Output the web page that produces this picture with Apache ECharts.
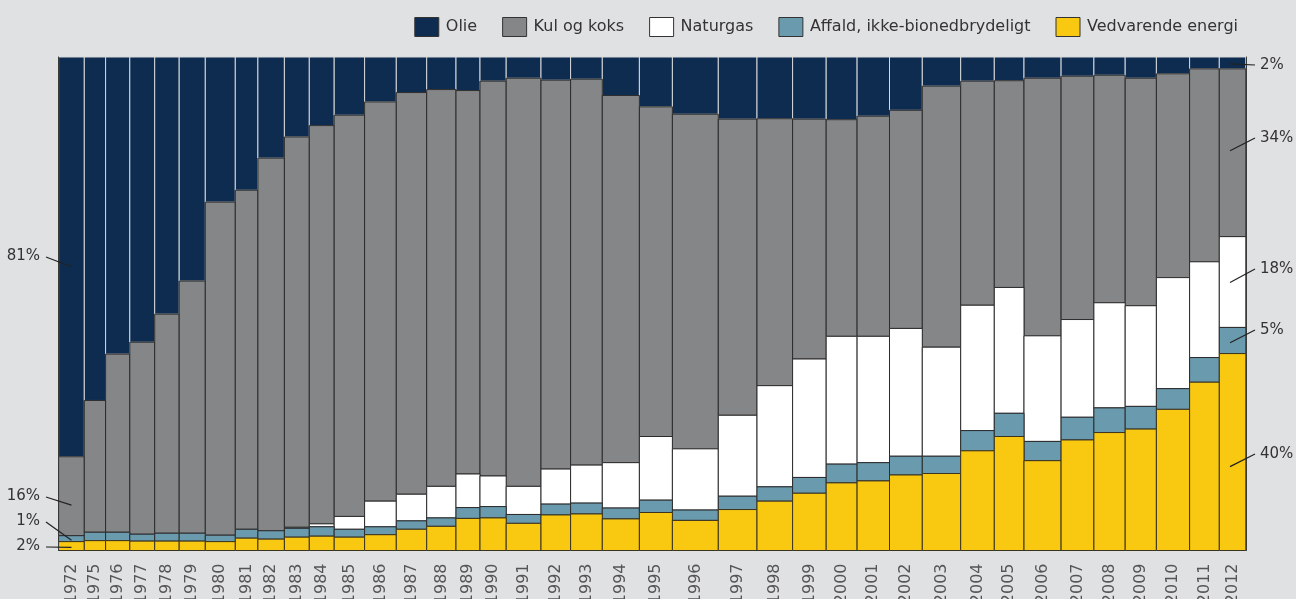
<!DOCTYPE html>
<html>
<head>
<meta charset="utf-8">
<script src="https://cdn.jsdelivr.net/npm/echarts@6/dist/echarts.min.js"></script>
<style>
  html, body { margin: 0; padding: 0; background: #e0e1e3; }
  #chart { width: 1296px; height: 599px; }
</style>
</head>
<body>
<div id="chart"></div>
<script>
const years = ['1972', '1975', '1976', '1977', '1978', '1979', '1980', '1981', '1982', '1983',
  '1984', '1985', '1986', '1987', '1988', '1989', '1990', '1991', '1992', '1993',
  '1994', '1995', '1996', '1997', '1998', '1999', '2000', '2001', '2002', '2003',
  '2004', '2005', '2006', '2007', '2008', '2009', '2010', '2011', '2012'];

// relative bar widths
const barWidths = [25.7, 21.3, 24.2, 24.9, 24.5, 26.1, 30.0, 22.6, 26.5, 24.9,
  24.9, 30.4, 31.7, 30.4, 29.3, 24.0, 26.2, 34.8, 29.6, 31.7,
  37.1, 33.0, 45.9, 38.7, 35.6, 33.6, 30.9, 32.4, 32.8, 38.4,
  33.6, 29.7, 37.1, 32.8, 31.3, 31.2, 33.2, 29.7, 26.5];

// shares in percent, bottom to top
const vedvarende = [1.8, 2.0, 2.0, 1.9, 1.9, 1.9, 1.8, 2.5, 2.3, 2.7,
  2.9, 2.7, 3.2, 4.3, 4.9, 6.5, 6.6, 5.5, 7.2, 7.4,
  6.4, 7.7, 6.1, 8.3, 10.0, 11.6, 13.7, 14.1, 15.3, 15.6,
  20.2, 23.1, 18.2, 22.4, 23.9, 24.6, 28.6, 34.1, 39.9];
const affald = [1.2, 1.7, 1.7, 1.4, 1.6, 1.6, 1.3, 1.8, 1.7, 1.8,
  1.9, 1.6, 1.6, 1.7, 1.7, 2.2, 2.3, 1.8, 2.2, 2.2,
  2.2, 2.5, 2.1, 2.7, 2.9, 3.2, 3.8, 3.7, 3.8, 3.5,
  4.1, 4.7, 3.9, 4.6, 5.0, 4.6, 4.2, 5.0, 5.3];
const naturgas = [0, 0, 0, 0, 0, 0, 0, 0, 0, 0.2,
  0.6, 2.6, 5.2, 5.4, 6.4, 6.8, 6.2, 5.7, 7.1, 7.7,
  9.2, 12.9, 12.4, 16.4, 20.5, 24.0, 25.9, 25.6, 25.9, 22.1,
  25.4, 25.5, 21.4, 19.8, 21.3, 20.4, 22.5, 19.4, 18.4];
const kul = [16.0, 26.7, 36.1, 38.9, 44.4, 51.1, 67.5, 68.7, 75.5, 79.1,
  80.7, 81.3, 80.9, 81.4, 80.4, 77.7, 80.0, 82.7, 78.8, 78.2,
  74.4, 66.8, 67.8, 60.0, 54.1, 48.6, 43.9, 44.6, 44.2, 52.9,
  45.4, 41.9, 52.2, 49.3, 46.1, 46.1, 41.3, 39.1, 34.0];
const olie = [81.0, 69.6, 60.2, 57.8, 52.1, 45.4, 29.4, 27.0, 20.5, 16.2,
  13.9, 11.8, 9.1, 7.2, 6.6, 6.8, 4.9, 4.3, 4.7, 4.5,
  7.8, 10.1, 11.6, 12.6, 12.5, 12.6, 12.7, 12.0, 10.8, 5.9,
  4.9, 4.8, 4.3, 3.9, 3.7, 4.3, 3.4, 2.4, 2.4];

const layers = [
  { name: 'Vedvarende energi', values: vedvarende, color: '#f9c810', border: '#3a3320' },
  { name: 'Affald, ikke-bionedbrydeligt', values: affald, color: '#6a9aae', border: '#2c2c2c' },
  { name: 'Naturgas', values: naturgas, color: '#ffffff', border: '#2c2c2c' },
  { name: 'Kul og koks', values: kul, color: '#858688', border: '#2c2c2c' },
  { name: 'Olie', values: olie, color: '#0e2c4f', border: '#d6d8da' }
];

// x extents of each bar
const starts = [];
let acc = 0;
barWidths.forEach(w => { starts.push(acc); acc += w; });
const totalWidth = acc;
const centers = starts.map((s, i) => s + barWidths[i] / 2);

// stacked bottoms/tops
const bottoms = layers.map(() => []);
const tops = layers.map(() => []);
years.forEach((y, i) => {
  let base = 0;
  layers.forEach((l, k) => {
    bottoms[k][i] = base;
    base += l.values[i];
    tops[k][i] = base;
  });
});

const series = layers.map((l, k) => ({
  name: l.name,
  type: 'custom',
  itemStyle: { color: l.color, borderColor: l.border, borderWidth: 1 },
  encode: { x: [0, 1], y: [2, 3] },
  data: years.map((y, i) => [starts[i], starts[i] + barWidths[i], bottoms[k][i], tops[k][i]])
    .filter(d => d[3] - d[2] > 0),
  renderItem: (params, api) => {
    const p0 = api.coord([api.value(0), api.value(2)]);
    const p1 = api.coord([api.value(1), api.value(3)]);
    return {
      type: 'rect',
      shape: { x: p0[0], y: p1[1], width: p1[0] - p0[0], height: p0[1] - p1[1] },
      style: { fill: l.color, stroke: l.border, lineWidth: 1 }
    };
  }
})).reverse();

const chart = echarts.init(document.getElementById('chart'));
const font = 'DejaVu Sans';

chart.setOption({
  backgroundColor: '#e0e1e3',
  animation: false,
  legend: {
    data: ['Olie', 'Kul og koks', 'Naturgas', 'Affald, ikke-bionedbrydeligt', 'Vedvarende energi'],
    right: 53,
    top: 12,
    icon: 'rect',
    itemWidth: 24,
    itemHeight: 19,
    itemGap: 25,
    itemStyle: { borderColor: '#333', borderWidth: 1 },
    textStyle: { fontFamily: font, fontSize: 16, color: '#333', padding: [0, 0, 0, 2] }
  },
  grid: { left: 58.6, right: 50.2, top: 57, bottom: 48.5, containLabel: false, outerBoundsMode: 'none' },
  xAxis: {
    type: 'value',
    min: 0,
    max: totalWidth,
    axisLine: { show: false },
    axisTick: { show: false },
    splitLine: { show: false },
    axisLabel: {
      customValues: centers,
      rotate: 90,
      margin: 13,
      fontFamily: font,
      fontSize: 16,
      color: '#555',
      formatter: (v) => {
        let best = 0;
        centers.forEach((c, i) => { if (Math.abs(c - v) < Math.abs(centers[best] - v)) best = i; });
        return years[best];
      }
    }
  },
  yAxis: [
    { type: 'value', min: 0, max: 100, position: 'left', z: 5,
      axisLine: { show: true, lineStyle: { color: '#3a3a3a', width: 1 } },
      axisTick: { show: false }, axisLabel: { show: false }, splitLine: { show: false } },
    { type: 'value', min: 0, max: 100, position: 'right', z: 5,
      axisLine: { show: true, lineStyle: { color: '#3a3a3a', width: 1 } },
      axisTick: { show: false }, axisLabel: { show: false }, splitLine: { show: false } }
  ],
  series: series
});

// leader-line annotations for first and last year
const last = years.length - 1;
const notes = [
  { side: 'left', idx: 0, value: olie[0], anchor: 57.5, textY: 256 },
  { side: 'left', idx: 0, value: kul[0], anchor: 9.2, textY: 496 },
  { side: 'left', idx: 0, value: affald[0], anchor: 2.1, textY: 521 },
  { side: 'left', idx: 0, value: vedvarende[0], anchor: 0.65, textY: 546 },
  { side: 'right', idx: last, value: olie[last], anchor: 98.6, textY: 65 },
  { side: 'right', idx: last, value: kul[last], anchor: 81.0, textY: 138 },
  { side: 'right', idx: last, value: naturgas[last], anchor: 54.3, textY: 269 },
  { side: 'right', idx: last, value: affald[last], anchor: 42.1, textY: 330 },
  { side: 'right', idx: last, value: vedvarende[last], anchor: 17.0, textY: 454 }
];

const graphics = [];
notes.forEach(n => {
  const xv = n.side === 'left' ? centers[n.idx] : centers[n.idx] - 2.5;
  const p = chart.convertToPixel({ gridIndex: 0 }, [xv, n.anchor]);
  const label = Math.round(n.value) + '%';
  if (n.side === 'left') {
    graphics.push({ type: 'line', z: 10, shape: { x1: 46, y1: n.textY + 1, x2: p[0], y2: p[1] },
      style: { stroke: '#222', lineWidth: 1.2 } });
    graphics.push({ type: 'text', z: 10, x: 40, y: n.textY,
      style: { text: label, fontFamily: font, fontSize: 15, fill: '#333', align: 'right', verticalAlign: 'middle' } });
  } else {
    graphics.push({ type: 'line', z: 10, shape: { x1: p[0], y1: p[1], x2: 1255, y2: n.textY },
      style: { stroke: '#222', lineWidth: 1.2 } });
    graphics.push({ type: 'text', z: 10, x: 1260, y: n.textY,
      style: { text: label, fontFamily: font, fontSize: 15, fill: '#333', align: 'left', verticalAlign: 'middle' } });
  }
});
chart.setOption({ graphic: graphics });
</script>
</body>
</html>
